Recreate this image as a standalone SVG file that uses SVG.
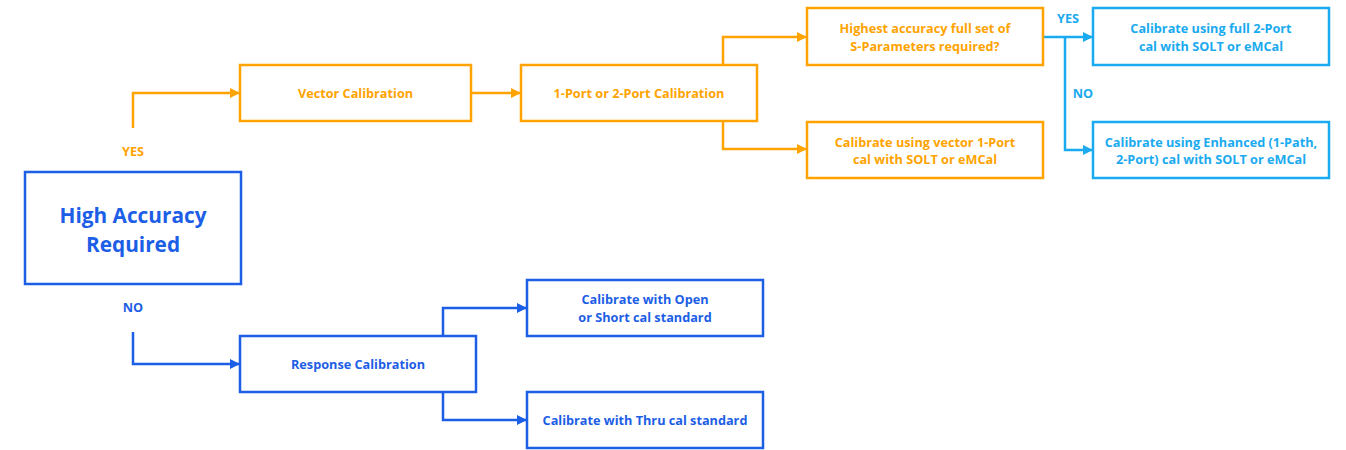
<svg xmlns="http://www.w3.org/2000/svg" width="1346" height="450" viewBox="0 0 1346 450">
  <style>
    .box { fill: #ffffff; stroke-width: 2.5; }
    .orange .box { stroke: #FFA300; }
    .blue .box { stroke: #1C5EE6; }
    .cyan .box { stroke: #1AAAF0; }
    text { font-family: "Open Sans", "Liberation Sans", sans-serif; font-weight: 700; font-size: 12.7px; text-anchor: middle; dominant-baseline: central; }
    .orange text, text.orange { fill: #FFA300; }
    .blue text, text.blue { fill: #1C5EE6; }
    .cyan text, text.cyan { fill: #1AAAF0; }
    .big { font-size: 20.8px; }
    .edge { fill: none; stroke-width: 2.5; }
    .edge.o { stroke: #FFA300; marker-end: url(#arrow-o); }
    .edge.b { stroke: #1C5EE6; marker-end: url(#arrow-b); }
    .edge.c { stroke: #1AAAF0; marker-end: url(#arrow-c); }
  </style>
  <defs>
    <marker id="arrow-o" viewBox="0 0 10 10" refX="10" refY="5" markerWidth="10" markerHeight="10" markerUnits="userSpaceOnUse" orient="auto">
      <path d="M0,0 L10,5 L0,10 Z" fill="#FFA300"/>
    </marker>
    <marker id="arrow-b" viewBox="0 0 10 10" refX="10" refY="5" markerWidth="10" markerHeight="10" markerUnits="userSpaceOnUse" orient="auto">
      <path d="M0,0 L10,5 L0,10 Z" fill="#1C5EE6"/>
    </marker>
    <marker id="arrow-c" viewBox="0 0 10 10" refX="10" refY="5" markerWidth="10" markerHeight="10" markerUnits="userSpaceOnUse" orient="auto">
      <path d="M0,0 L10,5 L0,10 Z" fill="#1AAAF0"/>
    </marker>
  </defs>

  <rect width="1346" height="450" fill="#ffffff"/>

  <!-- connectors -->
  <g id="connectors">
    <path class="edge o" d="M133,128 V93 H240"/>
    <path class="edge o" d="M471,93 H521"/>
    <path class="edge o" d="M723,65 V37 H807"/>
    <path class="edge o" d="M723,121 V149 H807"/>
    <path class="edge c" d="M1043,37 H1093"/>
    <path class="edge c" d="M1065,37 V150 H1093"/>
    <path class="edge b" d="M133,332 V364 H240"/>
    <path class="edge b" d="M443,336 V308 H527"/>
    <path class="edge b" d="M443,392 V420 H527"/>
  </g>

  <!-- branch labels -->
  <g id="labels">
    <text class="orange" x="133" y="151">YES</text>
    <text class="blue" x="133" y="307">NO</text>
    <text class="cyan" x="1068" y="18">YES</text>
    <text class="cyan" x="1083" y="93">NO</text>
  </g>

  <g id="high-accuracy" class="blue">
    <rect class="box" x="25" y="172" width="216" height="112"/>
    <text class="big" x="133" y="215">High Accuracy</text>
    <text class="big" x="133" y="244">Required</text>
  </g>

  <g id="vector-cal" class="orange">
    <rect class="box" x="240" y="65" width="231" height="56"/>
    <text x="355.5" y="93">Vector Calibration</text>
  </g>

  <g id="port-cal" class="orange">
    <rect class="box" x="521" y="65" width="236" height="56"/>
    <text x="639" y="93">1-Port or 2-Port Calibration</text>
  </g>

  <g id="s-params-question" class="orange">
    <rect class="box" x="807" y="8" width="236" height="57"/>
    <text x="925" y="28">Highest accuracy full set of</text>
    <text x="925" y="46">S-Parameters required?</text>
  </g>

  <g id="vector-1port" class="orange">
    <rect class="box" x="807" y="122" width="236" height="56"/>
    <text x="925" y="142">Calibrate using vector 1-Port</text>
    <text x="925" y="159">cal with SOLT or eMCal</text>
  </g>

  <g id="full-2port" class="cyan">
    <rect class="box" x="1093" y="8" width="236" height="57"/>
    <text x="1211" y="28">Calibrate using full 2-Port</text>
    <text x="1211" y="46">cal with SOLT or eMCal</text>
  </g>

  <g id="enhanced" class="cyan">
    <rect class="box" x="1093" y="122" width="236" height="56"/>
    <text x="1211" y="142">Calibrate using Enhanced (1-Path,</text>
    <text x="1211" y="159">2-Port) cal with SOLT or eMCal</text>
  </g>

  <g id="response-cal" class="blue">
    <rect class="box" x="240" y="336" width="236" height="56"/>
    <text x="358" y="364">Response Calibration</text>
  </g>

  <g id="open-short" class="blue">
    <rect class="box" x="527" y="280" width="236" height="56"/>
    <text x="645" y="299">Calibrate with Open</text>
    <text x="645" y="317">or Short cal standard</text>
  </g>

  <g id="thru" class="blue">
    <rect class="box" x="527" y="392" width="236" height="56"/>
    <text x="645" y="420">Calibrate with Thru cal standard</text>
  </g>
</svg>
